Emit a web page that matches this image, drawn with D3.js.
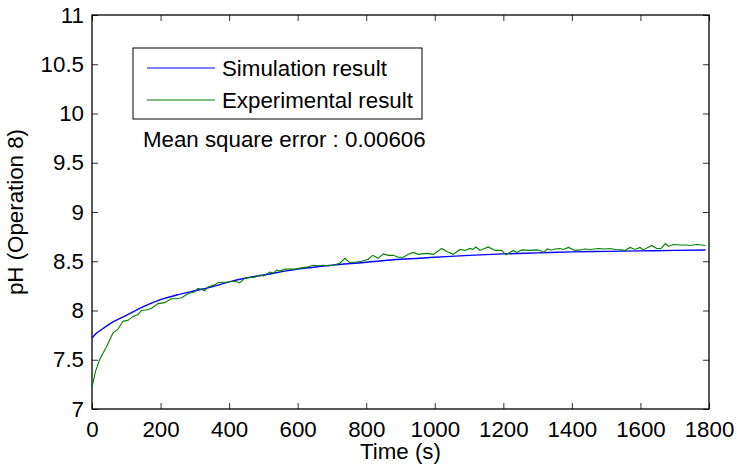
<!DOCTYPE html>
<html>
<head>
<meta charset="utf-8">
<script src="https://cdn.jsdelivr.net/npm/d3@7"></script>
<style>
  body { margin: 0; background: #fff; }
  text { font-family: "Liberation Sans", Arial, sans-serif; }
</style>
</head>
<body>
<div id="chart"></div>
<script>
// simulated pH (blue)
const simTime = [0, 10, 25, 50, 100, 150, 200, 250, 300, 350, 400, 450, 500, 600, 700, 800, 900, 1000, 1100, 1200, 1300, 1400, 1500, 1600, 1700, 1790];
const simPH = [7.72, 7.76, 7.80, 7.86, 7.95, 8.04, 8.11, 8.16, 8.20, 8.24, 8.29, 8.33, 8.36, 8.42, 8.46, 8.49, 8.52, 8.54, 8.56, 8.575, 8.585, 8.595, 8.60, 8.605, 8.61, 8.615];

// measured pH (green)
const expTime = [0, 10, 22, 42, 61, 76, 90, 105, 120, 134, 144, 158, 173, 193, 212, 231, 246, 261, 280, 300,
  309, 318, 329, 338, 358, 368, 397, 416, 431, 446, 476, 490, 500, 519, 529, 539, 548, 563, 583, 593,
  607, 626, 646, 660, 675, 690, 704, 723, 738, 750, 767, 787, 806, 819, 835, 850, 865, 879, 894, 908,
  923, 937, 952, 976, 996, 1020, 1035, 1054, 1074, 1088, 1103, 1111, 1120, 1132, 1156, 1176, 1195, 1208, 1229, 1239,
  1254, 1278, 1298, 1307, 1319, 1328, 1341, 1351, 1365, 1375, 1390, 1409, 1424, 1438, 1453, 1477, 1497, 1511, 1526, 1545,
  1555, 1570, 1584, 1599, 1608, 1633, 1647, 1660, 1673, 1681, 1696, 1715, 1735, 1744, 1764, 1779, 1790];
const expPH = [7.22, 7.38, 7.50, 7.63, 7.77, 7.81, 7.89, 7.90, 7.94, 7.96, 8.00, 8.005, 8.02, 8.07, 8.08, 8.12, 8.12, 8.13, 8.17, 8.19,
  8.225, 8.215, 8.20, 8.24, 8.26, 8.285, 8.29, 8.30, 8.28, 8.33, 8.34, 8.36, 8.35, 8.39, 8.38, 8.41, 8.40, 8.42, 8.42, 8.42,
  8.43, 8.44, 8.46, 8.455, 8.46, 8.455, 8.46, 8.48, 8.53, 8.49, 8.49, 8.50, 8.52, 8.56, 8.53, 8.575, 8.56, 8.56, 8.54, 8.54,
  8.57, 8.59, 8.57, 8.58, 8.57, 8.63, 8.60, 8.57, 8.62, 8.61, 8.63, 8.62, 8.645, 8.61, 8.645, 8.61, 8.61, 8.565, 8.61, 8.59,
  8.615, 8.61, 8.615, 8.61, 8.59, 8.625, 8.615, 8.625, 8.63, 8.62, 8.64, 8.61, 8.615, 8.625, 8.62, 8.63, 8.625, 8.63, 8.62, 8.615,
  8.61, 8.64, 8.62, 8.64, 8.615, 8.66, 8.63, 8.63, 8.68, 8.65, 8.67, 8.665, 8.665, 8.66, 8.67, 8.665, 8.66];

const xTicks = [0, 200, 400, 600, 800, 1000, 1200, 1400, 1600, 1800];
const yTicks = [7, 7.5, 8, 8.5, 9, 9.5, 10, 10.5, 11];
const seriesNames = ['Simulation result', 'Experimental result'];
const seriesColors = ['#0000ff', '#008000'];
const mseText = 'Mean square error : 0.00606';

const containerWidth = 737, containerHeight = 473;
const margin = { top: 15, right: 28, bottom: 64, left: 92 };
const width = containerWidth - margin.left - margin.right;
const height = containerHeight - margin.top - margin.bottom;
const fontSize = 22.3;

const svg = d3.select('#chart')
    .append('svg')
    .attr('width', containerWidth)
    .attr('height', containerHeight);

const chart = svg.append('g').attr('transform', `translate(${margin.left}, ${margin.top})`);

const xScale = d3.scaleLinear().domain([0, 1800]).range([0, width]);
const yScale = d3.scaleLinear().domain([7, 11]).range([height, 0]);

// ticks drawn inward on all four sides
const tickLen = 6;
function styleAxis(g) {
    g.select('.domain').remove();
    g.selectAll('.tick line').attr('stroke', '#333').attr('stroke-width', 1);
    g.selectAll('.tick text').attr('fill', '#000').style('font-size', fontSize + 'px')
        .style('font-family', '"Liberation Sans", Arial, sans-serif');
}

chart.append('g')
    .attr('transform', `translate(0, ${height})`)
    .call(d3.axisBottom(xScale).tickValues(xTicks).tickFormat(d3.format('d')).tickSizeInner(-tickLen).tickSizeOuter(0).tickPadding(12))
    .call(styleAxis);
chart.append('g')
    .call(d3.axisTop(xScale).tickValues(xTicks).tickFormat('').tickSizeInner(-tickLen).tickSizeOuter(0))
    .call(styleAxis);
chart.append('g')
    .call(d3.axisLeft(yScale).tickValues(yTicks).tickFormat(d => d).tickSizeInner(-tickLen).tickSizeOuter(0).tickPadding(8))
    .call(styleAxis);
chart.append('g')
    .attr('transform', `translate(${width}, 0)`)
    .call(d3.axisRight(yScale).tickValues(yTicks).tickFormat('').tickSizeInner(-tickLen).tickSizeOuter(0))
    .call(styleAxis);

// box
chart.append('rect')
    .attr('x', 0).attr('y', 0)
    .attr('width', width).attr('height', height)
    .attr('fill', 'none')
    .attr('stroke', '#000')
    .attr('stroke-width', 1.3);

const simLine = d3.line()
    .x(d => xScale(d[0]))
    .y(d => yScale(d[1]))
    .curve(d3.curveMonotoneX);

const expLine = d3.line()
    .x(d => xScale(d[0]))
    .y(d => yScale(d[1]));

const simData = simTime.map((t, i) => [t, simPH[i]]);
const expData = expTime.map((t, i) => [t, expPH[i]]);

chart.append('path')
    .datum(simData)
    .attr('fill', 'none')
    .attr('stroke', seriesColors[0])
    .attr('stroke-width', 1.4)
    .attr('d', simLine);

chart.append('path')
    .datum(expData)
    .attr('fill', 'none')
    .attr('stroke', seriesColors[1])
    .attr('stroke-width', 1.1)
    .attr('d', expLine);

// axis titles
svg.append('text')
    .attr('x', margin.left + width / 2)
    .attr('y', 459)
    .attr('text-anchor', 'middle')
    .style('font-size', fontSize + 'px')
    .text('Time (s)');

svg.append('text')
    .attr('transform', `translate(23, ${margin.top + height / 2}) rotate(-90)`)
    .attr('text-anchor', 'middle')
    .style('font-size', fontSize + 'px')
    .text('pH (Operation 8)');

// legend
const legend = svg.append('g');
legend.append('rect')
    .attr('x', 133).attr('y', 48)
    .attr('width', 289).attr('height', 71)
    .attr('fill', '#fff')
    .attr('stroke', '#000')
    .attr('stroke-width', 1);

const rowY = [68, 100];
seriesNames.forEach((name, i) => {
    legend.append('line')
        .attr('x1', 147).attr('x2', 215)
        .attr('y1', rowY[i]).attr('y2', rowY[i])
        .attr('stroke', seriesColors[i])
        .attr('stroke-width', 1.1);
    legend.append('text')
        .attr('x', 222)
        .attr('y', rowY[i] + 8)
        .style('font-size', fontSize + 'px')
        .text(name);
});

svg.append('text')
    .attr('x', 143)
    .attr('y', 147)
    .style('font-size', fontSize + 'px')
    .text(mseText);
</script>
</body>
</html>
